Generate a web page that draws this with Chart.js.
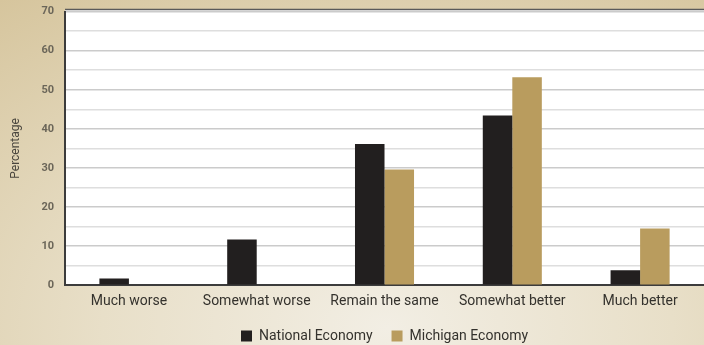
<!DOCTYPE html>
<html lang="en">
<head>
    <meta charset="UTF-8">
    <title>Economic Outlook</title>
    <script src="https://cdn.jsdelivr.net/npm/chart.js"></script>
    <style>
        html, body { margin: 0; padding: 0; }
        body {
            width: 704px; height: 345px; overflow: hidden;
            background: radial-gradient(ellipse 90% 120% at 55% 95%, #f2eee4 0%, #e8dfc8 45%, #d6c59d 100%);
        }
        /* canvas sits a little above the page top so the plot frame starts near y=10 */
        .chart-box { position: relative; width: 704px; height: 351px; margin-top: -6px; }
    </style>
</head>
<body>
    <div class="chart-box">
        <canvas id="outlookChart"></canvas>
    </div>

    <script>
        const categories = ['Much worse', 'Somewhat worse', 'Remain the same', 'Somewhat better', 'Much better'];
        const nationalValues = [1.7, 11.7, 36.1, 43.4, 3.8];
        const michiganValues = [0, 0, 29.6, 53.2, 14.5];
        const seriesNames = ['National Economy', 'Michigan Economy'];

        // white plot background and thin frame along the top of the chart area
        const plotFrame = {
            id: 'plotFrame',
            beforeDraw(chart) {
                const { ctx, chartArea: a } = chart;
                ctx.save();
                ctx.fillStyle = '#ffffff';
                ctx.fillRect(a.left, a.top - 2, a.right - a.left, a.bottom - a.top + 2);
                ctx.restore();
            },
            afterDraw(chart) {
                const { ctx, chartArea: a } = chart;
                ctx.save();
                ctx.strokeStyle = '#5a5a5a';
                ctx.lineWidth = 1.5;
                ctx.beginPath();
                ctx.moveTo(a.left, a.top - 2);
                ctx.lineTo(a.right, a.top - 2);
                ctx.stroke();
                ctx.restore();
            }
        };

        new Chart(document.getElementById('outlookChart'), {
            type: 'bar',
            data: {
                labels: categories,
                datasets: [
                    {
                        label: seriesNames[0],
                        data: nationalValues,
                        backgroundColor: '#221f1f',
                        barPercentage: 1,
                        categoryPercentage: 0.462
                    },
                    {
                        label: seriesNames[1],
                        data: michiganValues,
                        backgroundColor: '#b99c5e',
                        barPercentage: 1,
                        categoryPercentage: 0.462
                    }
                ]
            },
            options: {
                responsive: true,
                maintainAspectRatio: false,
                animation: false,
                layout: { padding: { top: 0, right: 0, left: 9, bottom: -8 } },
                scales: {
                    x: {
                        grid: { display: false },
                        border: { color: '#3c3c3c', width: 2 },
                        ticks: {
                            color: '#34322d',
                            font: { family: 'Roboto', size: 14 },
                            padding: 0,
                            maxRotation: 0
                        }
                    },
                    y: {
                        min: 0,
                        max: 70,
                        border: { color: '#3c3c3c', width: 2 },
                        grid: {
                            drawTicks: false,
                            color: ctx => ctx.tick.value % 10 === 0 ? '#cbcbcb' : '#dedede',
                            lineWidth: 1.5
                        },
                        ticks: {
                            stepSize: 5,
                            padding: 11,
                            color: '#6b6659',
                            font: { family: 'Roboto', size: 11, weight: 'bold' },
                            callback: v => v % 10 === 0 ? v : ''
                        },
                        title: {
                            display: true,
                            text: 'Percentage',
                            color: '#4a463e',
                            font: { family: 'Roboto', size: 12 },
                            padding: { top: 0, bottom: 7 }
                        }
                    }
                },
                plugins: {
                    legend: {
                        position: 'bottom',
                        fullSize: false,
                        labels: {
                            boxWidth: 11,
                            boxHeight: 11,
                            padding: 19,
                            color: '#34322d',
                            font: { family: 'Roboto', size: 14 }
                        }
                    },
                    tooltip: { enabled: false }
                }
            },
            plugins: [plotFrame]
        });
    </script>
</body>
</html>
